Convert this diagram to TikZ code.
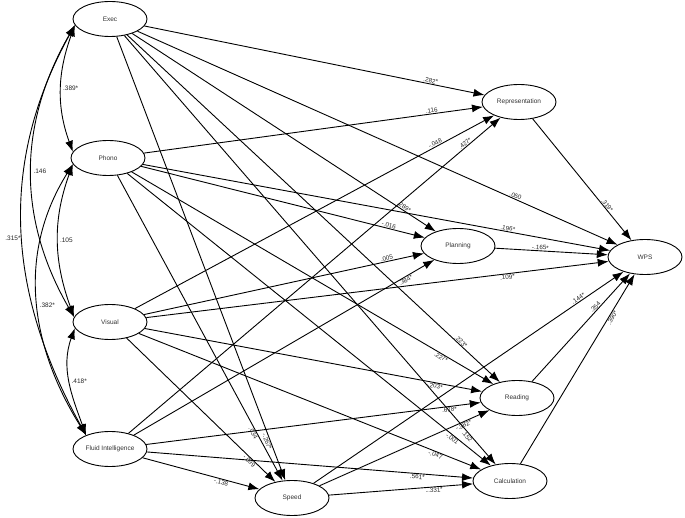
\documentclass[tikz,border=0pt]{standalone}
\usepackage{fontspec}
\setmainfont{Liberation Sans}
\usetikzlibrary{arrows.meta,shapes.geometric}

\begin{document}
\begin{tikzpicture}[x=1pt,y=-1pt,
  var/.style={draw, ellipse, line width=0.9pt, minimum width=74pt, minimum height=35pt,
              inner sep=0pt, font=\fontsize{6.5}{7}\selectfont, text=black!80},
  reg/.style={line width=0.9pt, -{Latex[length=11pt,width=8pt]}},
  corr/.style={line width=0.9pt, {Latex[length=11pt,width=8pt]}-{Latex[length=11pt,width=8pt]}},
  lbl/.style={font=\fontsize{6.3}{7}\selectfont, text=black!85, inner sep=0.6pt, sloped},
  clbl/.style={font=\fontsize{6.5}{7}\selectfont, text=black!85, inner sep=1.5pt}]
\useasboundingbox (0,0) rectangle (685,518);

\node[var] (exec) at (110,19) {Exec};
\node[var] (phono) at (108,158) {Phono};
\node[var] (visual) at (110,322) {Visual};
\node[var] (fluid) at (110,449) {Fluid Intelligence};
\node[var] (speed) at (292,498) {Speed};
\node[var] (repr) at (519,102) {Representation};
\node[var] (plan) at (458,246) {Planning};
\node[var] (wps) at (645,257) {WPS};
\node[var] (read) at (517,398) {Reading};
\node[var] (calc) at (510,481) {Calculation};

\draw[corr] (exec.190) to[out=250,in=110] node[clbl,pos=.5,right] {.389*} (phono.170);
\draw[corr] (exec.190) to[out=240,in=120] node[clbl,pos=.5,right] {.146} (visual.172);
\draw[corr] (exec.190) to[out=241,in=119] node[clbl,pos=.52,left] {.315*} (fluid.150);
\draw[corr] (phono.190) to[out=250,in=110] node[clbl,pos=.5,right] {.105} (visual.172);
\draw[corr] (phono.190) to[out=238,in=122] node[clbl,pos=.52,right] {.382*} (fluid.150);
\draw[corr] (visual.190) to[out=250,in=110] node[clbl,pos=.5,right] {.418*} (fluid.150);

\draw[reg] (exec) -- (repr) node[lbl,pos=.84,above] {.282*};
\draw[reg] (phono) -- (repr) node[lbl,pos=.85,above] {.116};
\draw[reg] (visual) -- (repr) node[lbl,pos=.84,above] {-.048};
\draw[reg] (fluid) -- (repr) node[lbl,pos=.91,above] {.427*};

\draw[reg] (exec) -- (plan) node[lbl,pos=.89,above] {.289*};
\draw[reg] (phono) -- (plan) node[lbl,pos=.87,above] {-.016};
\draw[reg] (visual) -- (plan) node[lbl,pos=.87,above] {.005};
\draw[reg] (fluid) -- (plan) node[lbl,pos=.90,below] {.384*};

\draw[reg] (exec) -- (read) node[lbl,pos=.89,above] {.223*};
\draw[reg] (phono) -- (read) node[lbl,pos=.86,below] {.227*};
\draw[reg] (visual) -- (read) node[lbl,pos=.86,below] {-.203*};
\draw[reg] (fluid) -- (read) node[lbl,pos=.905,below] {.678*};
\draw[reg] (speed) -- (read) node[lbl,pos=.84,below] {-.382*};

\draw[reg] (exec) -- (calc) node[lbl,pos=.93,below] {.152};
\draw[reg] (phono) -- (calc) node[lbl,pos=.90,below] {-.001};
\draw[reg] (visual) -- (calc) node[lbl,pos=.87,below] {-.047};
\draw[reg] (fluid) -- (calc) node[lbl,pos=.83,below] {.561*};
\draw[reg] (speed) -- (calc) node[lbl,pos=.73,below] {-.331*};

\draw[reg] (exec) -- (speed) node[lbl,pos=.91,below] {-.267*};
\draw[reg] (phono) -- (speed) node[lbl,pos=.84,below] {.034};
\draw[reg] (visual) -- (speed) node[lbl,pos=.84,below] {-.099};
\draw[reg] (fluid) -- (speed) node[lbl,pos=.68,below] {-.138};

\draw[reg] (exec) -- (wps) node[lbl,pos=.785,above] {.050};
\draw[reg] (phono) -- (wps) node[lbl,pos=.78,above] {.196*};
\draw[reg] (visual) -- (wps) node[lbl,pos=.78,below] {.109*};
\draw[reg] (speed) -- (wps) node[lbl,pos=.86,above] {.144*};
\draw[reg] (repr) -- (wps) node[lbl,pos=.73,above] {.319*};
\draw[reg] (plan) -- (wps) node[lbl,pos=.40,above] {-.165*};
\draw[reg] (read) -- (wps) node[lbl,pos=.67,above] {.354};
\draw[reg] (calc) -- (wps) node[lbl,pos=.78,below] {.390*};
\end{tikzpicture}
\end{document}
